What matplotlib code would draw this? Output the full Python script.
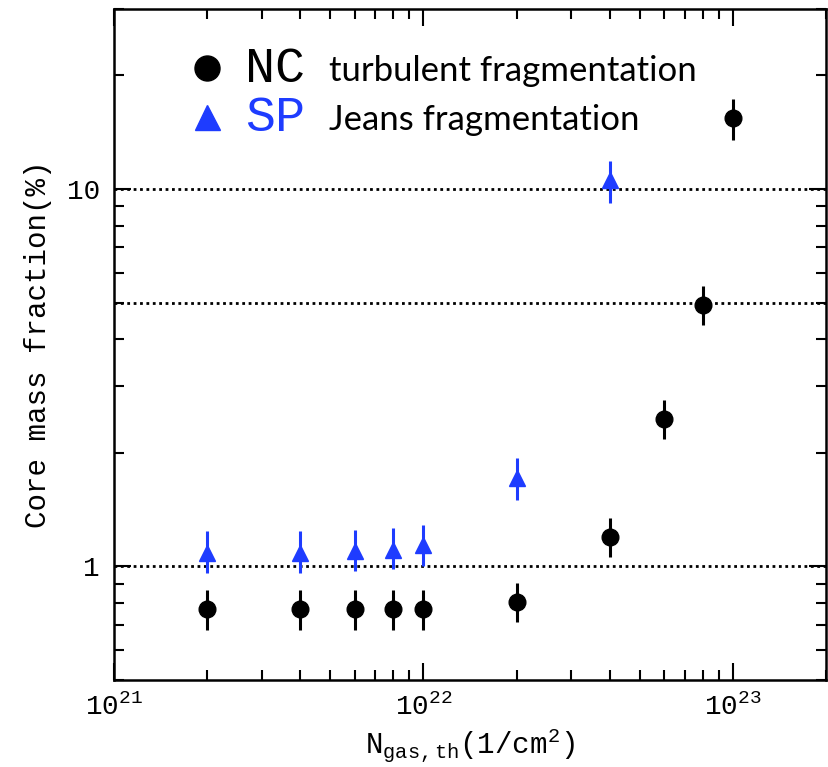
import matplotlib
matplotlib.use("Agg")
import matplotlib.pyplot as plt
import numpy as np
from matplotlib.ticker import LogLocator, NullFormatter

# Data
nc_x = [2e21, 4e21, 6e21, 8e21, 1e22, 2e22, 4e22, 6e22, 8e22, 1e23]
nc_y = [0.771, 0.771, 0.771, 0.771, 0.771, 0.805, 1.20, 2.46, 4.93, 15.4]
nc_lo = [0.68, 0.68, 0.68, 0.68, 0.68, 0.711, 1.06, 2.17, 4.36, 13.5]
nc_hi = [0.864, 0.864, 0.864, 0.864, 0.864, 0.904, 1.34, 2.76, 5.54, 17.3]

sp_x = [2e21, 4e21, 6e21, 8e21, 1e22, 2e22, 4e22]
sp_y = [1.085, 1.085, 1.096, 1.107, 1.137, 1.71, 10.56]
sp_lo = [0.96, 0.96, 0.97, 0.984, 1.0, 1.50, 9.18]
sp_hi = [1.238, 1.238, 1.25, 1.264, 1.29, 1.94, 11.9]

ref_lines = [1, 5, 10]

BLUE = "#1e3cff"
MONO = "Liberation Mono"

plt.rcParams["font.family"] = MONO
plt.rcParams["mathtext.fontset"] = "custom"
plt.rcParams["mathtext.rm"] = MONO
plt.rcParams["mathtext.it"] = MONO


def errs(y, lo, hi):
    y = np.array(y)
    return [y - np.array(lo), np.array(hi) - y]


fig = plt.figure(figsize=(8.29, 7.67), dpi=100)
ax = fig.add_axes([0.1375, 0.1134, 0.8589, 0.8749])

for v in ref_lines:
    ax.axhline(v, color="black", ls=(0, (1, 1.3)), lw=2.0, zorder=1)

ax.errorbar(nc_x, nc_y, yerr=errs(nc_y, nc_lo, nc_hi), fmt="o", color="black",
            ms=12, elinewidth=2.2, capsize=0, zorder=3)
ax.errorbar(sp_x, sp_y, yerr=errs(sp_y, sp_lo, sp_hi), fmt="^", color=BLUE,
            ms=12, elinewidth=2.2, capsize=0, zorder=3)

ax.set_xscale("log")
ax.set_yscale("log")
ax.set_xlim(1e21, 2e23)
ax.set_ylim(0.5, 30)

ax.yaxis.set_minor_locator(LogLocator(base=10, subs=np.arange(2, 10), numticks=20))
ax.yaxis.set_minor_formatter(NullFormatter())
ax.set_yticks([1, 10])
ax.set_yticklabels(["1", "10"])
ax.xaxis.set_minor_formatter(NullFormatter())

ax.tick_params(which="both", direction="in", top=True, right=True, width=1.5,
               labelsize=20, pad=10)
ax.tick_params(which="major", length=12)
ax.tick_params(which="minor", length=7)
for s in ax.spines.values():
    s.set_linewidth(1.8)

ax.set_ylabel("Core mass fraction(%)", fontsize=21, labelpad=11)
ax.set_xlabel(r"N$_{\rm gas,th}$(1/cm$^2$)", fontsize=21, labelpad=4)

# hand-made legend
ax.plot([0.131], [0.912], "o", color="black", ms=18, transform=ax.transAxes)
ax.plot([0.131], [0.839], "^", color=BLUE, ms=18, transform=ax.transAxes)
ax.text(0.184, 0.891, "NC", fontsize=36, transform=ax.transAxes, va="baseline")
ax.text(0.184, 0.818, "SP", fontsize=36, color=BLUE, transform=ax.transAxes, va="baseline")
ax.text(0.302, 0.893, "turbulent fragmentation", fontsize=25, family="Lato",
        transform=ax.transAxes, va="baseline")
ax.text(0.302, 0.820, "Jeans fragmentation", fontsize=25, family="Lato",
        transform=ax.transAxes, va="baseline")

fig.savefig("out.png", dpi=100)
